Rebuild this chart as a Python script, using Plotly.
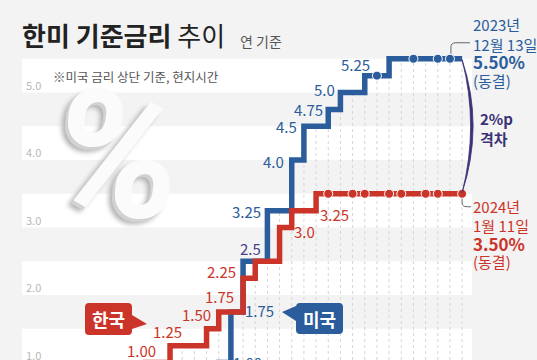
import plotly.graph_objects as go

# ---------------- data ----------------
kr_dates = ["2021-01", "2021-08", "2021-11", "2022-01", "2022-04", "2022-05", "2022-07",
            "2022-08", "2022-10", "2022-11", "2023-01", "2023-02", "2023-04", "2023-05",
            "2023-07", "2023-08", "2023-10", "2023-11", "2024-01"]
kr_rates = [0.50, 0.75, 1.00, 1.25, 1.50, 1.75, 2.25,
            2.50, 3.00, 3.25, 3.50, 3.50, 3.50, 3.50,
            3.50, 3.50, 3.50, 3.50, 3.50]
kr_freeze = ["2023-02", "2023-04", "2023-05", "2023-07", "2023-08", "2023-10", "2023-11", "2024-01"]

us_dates = ["2021-01", "2022-03", "2022-05", "2022-06", "2022-07", "2022-09", "2022-11",
            "2022-12", "2023-02", "2023-03", "2023-05", "2023-06", "2023-07", "2023-09",
            "2023-11", "2023-12", "2024-01"]
us_rates = [0.25, 0.50, 1.00, 1.75, 2.50, 3.25, 4.00,
            4.50, 4.75, 5.00, 5.25, 5.25, 5.50, 5.50,
            5.50, 5.50, 5.50]
us_freeze = ["2023-06", "2023-09", "2023-11", "2023-12"]

kr_label_dates = ["2021-11", "2022-01", "2022-04", "2022-05", "2022-07", "2022-10", "2022-11"]
kr_label_vals = [1.00, 1.25, 1.50, 1.75, 2.25, 3.00, 3.25]
kr_label_text = ["1.00", "1.25", "1.50", "1.75", "2.25", "3.0", "3.25"]

us_label_dates = ["2022-05", "2022-06", "2022-09", "2022-11", "2022-12", "2023-02", "2023-03", "2023-05"]
us_label_vals = [1.00, 1.75, 3.25, 4.00, 4.50, 4.75, 5.00, 5.25]
us_label_text = ["1.00", "1.75", "3.25", "4.0", "4.5", "4.75", "5.0", "5.25"]

both_label_date = "2022-07"
both_label_val = 2.50
both_label_text = "2.5"

y_ticks = [1.0, 2.0, 3.0, 4.0, 5.0]

# ---------------- styling ----------------
BLUE = "#2b5c9b"
RED = "#cb3529"
PURPLE = "#48408c"
ARC = "#3a3176"
BG = "#f3f3f3"
FONT = "Noto Sans CJK KR"
W, H = 537, 360


def midx(s):
    y, m = s.split("-")
    return (int(y) - 2021) * 12 + int(m) - 1


PXM = 12.17          # pixels per month
X0 = 24.0            # pixel of month 0
PXV = 67.5           # pixels per 1 %p
xr = [(0 - X0) / PXM, (W - X0) / PXM]
yr = [4 - (H - 160) / PXV, 4 + 160 / PXV]


def step_val(dates, vals, m):
    v = None
    for d, r in zip(dates, vals):
        if midx(d) <= m:
            v = r
    return v


fig = go.Figure()

shapes = []
# alternating bands
band_x0 = (22 - X0) / PXM
band_x1 = (472 - X0) / PXM
for n in range(1, 6):
    shapes.append(dict(type="rect", xref="x", yref="y", x0=band_x0, x1=band_x1,
                       y0=n, y1=n + 0.5, fillcolor="white", line=dict(width=0), layer="below"))

# vertical dotted month lines below the step lines
for m in range(10, 37):
    top = max(step_val(us_dates, us_rates, m), step_val(kr_dates, kr_rates, m))
    if top < yr[0]:
        continue
    shapes.append(dict(type="line", xref="x", yref="y", x0=m, x1=m, y0=yr[0], y1=top,
                       line=dict(color="#d6d6d6", width=1, dash="dot"), layer="below"))

# lines
fig.add_trace(go.Scatter(x=[midx(d) for d in us_dates], y=us_rates, mode="lines",
                         line=dict(color=BLUE, width=5.5, shape="hv"), hoverinfo="skip"))
fig.add_trace(go.Scatter(x=[midx(d) for d in us_freeze],
                         y=[step_val(us_dates, us_rates, midx(d)) for d in us_freeze],
                         mode="markers", marker=dict(color=BLUE, size=9, line=dict(color="white", width=1)),
                         hoverinfo="skip"))
fig.add_trace(go.Scatter(x=[midx(d) for d in kr_dates], y=kr_rates, mode="lines",
                         line=dict(color=RED, width=5.5, shape="hv"), hoverinfo="skip"))
fig.add_trace(go.Scatter(x=[midx(d) for d in kr_freeze],
                         y=[step_val(kr_dates, kr_rates, midx(d)) for d in kr_freeze],
                         mode="markers", marker=dict(color=RED, size=9, line=dict(color="white", width=1)),
                         hoverinfo="skip"))

ann = []
YMIN_ANCHOR = 1.1


def val_label(d, v, t, dx, dy, color):
    # keep the anchor inside the axis range; compensate with pixel shift
    ya = max(v, YMIN_ANCHOR)
    return dict(x=midx(d), y=ya, text=t, showarrow=False, xanchor="center", yanchor="middle",
                xshift=dx, yshift=dy - (ya - v) * PXV,
                font=dict(family=FONT, size=15, color=color))


kr_off = [(-4.7, 12.5), (-3, 14.6), (-9.6, 13.8), (0.3, 14.9), (-22, 7), (25.4, -3.5), (42.3, -3.4)]
for d, v, t, (dx, dy) in zip(kr_label_dates, kr_label_vals, kr_label_text, kr_off):
    ann.append(val_label(d, v, t, dx, dy, RED))
us_off = [(29, 0.5), (29, 1), (-20.4, -0.4), (-18.7, -1), (-17, 0), (-20, 0), (-16.4, 3.5), (-9, 11.6)]
for d, v, t, (dx, dy) in zip(us_label_dates, us_label_vals, us_label_text, us_off):
    ann.append(val_label(d, v, t, dx, dy, BLUE))
ann.append(val_label(both_label_date, both_label_val, both_label_text, 7, 13, PURPLE))

# y tick labels
for v in y_ticks:
    ya = max(v, YMIN_ANCHOR)
    ann.append(dict(x=22 / W, xref="paper", y=ya, text=f"{v:.1f}", showarrow=False, xanchor="left",
                    yanchor="middle", xshift=2, yshift=8 - (ya - v) * PXV,
                    font=dict(family=FONT, size=11, color="#b8b8b8")))


def pp(px, py):
    return px / W, 1 - py / H


def ptext(px, py, text, size, color, xanchor="left", family=FONT, **kw):
    tx, ty = pp(px, py)
    f = dict(family=family, size=size, color=color)
    f.update(kw.pop("fontx", {}))
    return dict(x=tx, y=ty, xref="paper", yref="paper", xanchor=xanchor, yanchor="middle",
                showarrow=False, text=text, font=f, **kw)


# title
ann.append(ptext(20, 35, "<b>한미 기준금리</b> 추이", 26, "#222"))
ann.append(ptext(238, 41, "연 기준", 14, "#555"))
ann.append(ptext(51, 76, "※미국 금리 상단 기준, 현지시간", 12.5, "#555"))

# big percent sign
ann.append(ptext(116, 155, "%", 180, "#fbfbfb", xanchor="center", family="Liberation Sans Narrow, Roboto",
                 fontx=dict(weight="bold", style="italic",
                            shadow="-3px 3px 0px #d2d2d2, -6px 5px 5px #b0b0b0")))

# right side notes
for t, py, sz, b in [("2023년", 25, 15, False), ("12월 13일", 44, 15, False),
                     ("5.50%", 61, 17, True), ("(동결)", 80, 15, False)]:
    ann.append(ptext(471, py, f"<b>{t}</b>" if b else t, sz, BLUE))
for t, py, sz, b in [("2024년", 207, 15, False), ("1월 11일", 225, 15, False),
                     ("3.50%", 243, 17, True), ("(동결)", 261, 15, False)]:
    ann.append(ptext(471, py, f"<b>{t}</b>" if b else t, sz, RED))
ann.append(ptext(478, 128, "<b>2%p<br>격차</b>", 15, ARC, align="left"))

# arc between end of lines
shapes.append(dict(type="path", xref="x", yref="y", xsizemode="pixel", ysizemode="pixel",
                   xanchor=midx(us_dates[-1]), yanchor=us_rates[-1],
                   path="M 0,-1 Q 22,-67 0,-134 Q 17,-67 0,-1 Z",
                   fillcolor=ARC, line=dict(color=ARC, width=0.8), layer="above"))
# connectors
shapes.append(dict(type="path", xref="x", yref="y", xsizemode="pixel", ysizemode="pixel",
                   xanchor=midx(us_freeze[-1]), yanchor=us_rates[-1],
                   path="M 1,5 V 12 Q 1,16 6,16 H 20",
                   line=dict(color="#666", width=1), layer="above"))
shapes.append(dict(type="path", xref="x", yref="y", xsizemode="pixel", ysizemode="pixel",
                   xanchor=midx(kr_freeze[-1]), yanchor=kr_rates[-1],
                   path="M 0,-5 V -9 Q 0,-13 5,-13 H 9",
                   line=dict(color="#666", width=1), layer="above"))


# callouts (legend-like)
def callout(x0, y0, x1, y1, tail, r=4):
    def c(px, py):
        return f"{px},{H - py}"
    p = (f"M {c(x0 + r, y0)} L {c(x1 - r, y0)} Q {c(x1, y0)} {c(x1, y0 + r)} ")
    if tail == "right":
        p += f"L {c(x1, y0 + 12)} L {c(x1 + 15, y0 + 21)} L {c(x1, y1 - 6)} "
    p += f"L {c(x1, y1 - r)} Q {c(x1, y1)} {c(x1 - r, y1)} L {c(x0 + r, y1)} Q {c(x0, y1)} {c(x0, y1 - r)} "
    if tail == "left":
        p += f"L {c(x0, y1 - 13)} L {c(x0 - 14, y0 + 9)} L {c(x0, y0 + 3)} "
    p += f"L {c(x0, y0 + r)} Q {c(x0, y0)} {c(x0 + r, y0)} Z"
    return p


shapes.append(dict(type="path", xref="paper", yref="paper", xsizemode="pixel", ysizemode="pixel",
                   xanchor=0, yanchor=0, path=callout(85, 303, 132, 335, "right"),
                   fillcolor=RED, line=dict(width=0), layer="above"))
shapes.append(dict(type="path", xref="paper", yref="paper", xsizemode="pixel", ysizemode="pixel",
                   xanchor=0, yanchor=0, path=callout(296, 303, 343, 334, "left"),
                   fillcolor=BLUE, line=dict(width=0), layer="above"))
ann.append(ptext(108.5, 319, "<b>한국</b>", 18, "white", xanchor="center"))
ann.append(ptext(319.5, 318.5, "<b>미국</b>", 18, "white", xanchor="center"))

fig.update_layout(
    width=W, height=H, autosize=False,
    margin=dict(l=0, r=0, t=0, b=0, pad=0),
    paper_bgcolor=BG, plot_bgcolor=BG,
    showlegend=False, hovermode=False,
    xaxis=dict(range=xr, visible=False, showgrid=False, zeroline=False, fixedrange=True),
    yaxis=dict(range=yr, visible=False, showgrid=False, zeroline=False, fixedrange=True),
    shapes=shapes, annotations=ann,
)

fig.write_html("out.html", config={"displayModeBar": False},
               post_script="document.body.style.margin='0';document.body.style.overflow='hidden';")
